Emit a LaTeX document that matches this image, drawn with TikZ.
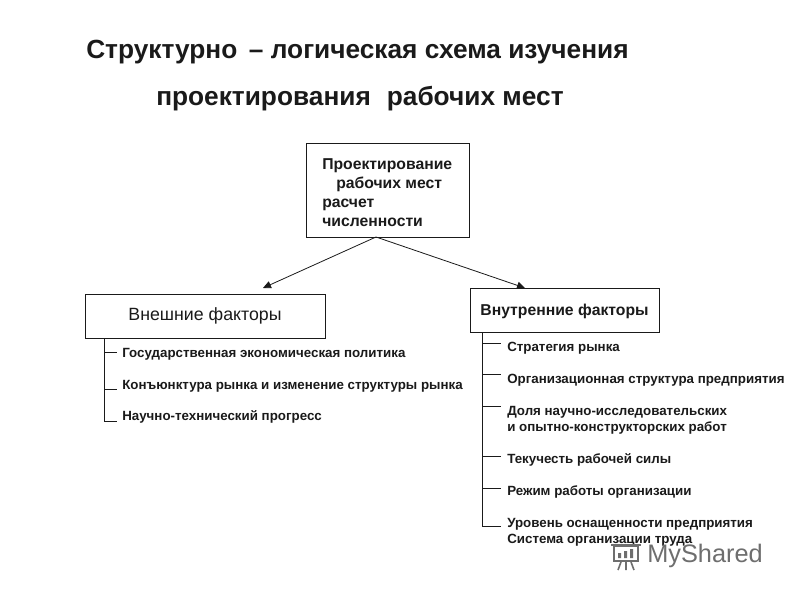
\documentclass[tikz,border=0pt]{standalone}
\usepackage{fontspec}
\setmainfont{Liberation Sans}
\usetikzlibrary{arrows.meta}
\definecolor{ink}{HTML}{1A1A1A}
\definecolor{wm}{HTML}{6E6E6E}
\tikzset{
  box/.style={draw=ink,line width=0.75pt,fill=white,inner sep=0pt},
  lbl/.style={anchor=west,inner sep=0pt,font=\fontsize{10}{12}\selectfont\bfseries,text=ink,align=left},
  ttl/.style={anchor=west,inner sep=0pt,font=\fontsize{19.7}{24}\selectfont\bfseries,text=ink},
  tree/.style={draw=ink,line width=0.7pt},
  arr/.style={draw=ink,line width=0.6pt,-{Triangle[length=6pt,width=5.5pt]}},
  wmline/.style={draw=wm,line width=1.2pt}
}
\begin{document}
\begin{tikzpicture}[x=0.75pt,y=-0.75pt]
\useasboundingbox (0,0) rectangle (800,600);
\fill[white] (0,0) rectangle (800,600);
\node[ttl] (t1) at (86,52) {Структурно \,– логическая схема изучения};
\node[ttl] (t2) at (156,99) {проектирования \,\,рабочих мест};
% boxes
\node[box,minimum width=122.25pt,minimum height=70.5pt] (top) at (387.5,190) {};
\node[box,minimum width=180pt,minimum height=33pt] (ext) at (205,316) {};
\node[box,minimum width=141.75pt,minimum height=33pt] (int) at (564.5,310) {};
\node[lbl,font=\fontsize{11.8}{14.2}\selectfont\bfseries] (toptxt) at (322,193) {Проектирование\\\hspace*{10.5pt}рабочих мест\\расчет\\численности};
\node[anchor=center,inner sep=0pt,font=\fontsize{13.3}{15}\selectfont,text=ink] (exttxt) at (205,316) {Внешние факторы};
\node[anchor=center,inner sep=0pt,font=\fontsize{11.8}{15}\selectfont\bfseries,text=ink] (inttxt) at (564.5,311) {Внутренние факторы};
% arrows
\coordinate (src) at (376,237);
\coordinate (lt) at (263,288);
\coordinate (rt) at (525,288);
\draw[arr] (src) -- (lt);
\draw[arr] (src) -- (rt);
% left list
\node[lbl] (a1) at (122,354) {Государственная экономическая политика};
\node[lbl] (a2) at (122,386) {Конъюнктура рынка и изменение структуры рынка};
\node[lbl] (a3) at (122,417) {Научно-технический прогресс};
\coordinate (aS) at (104,338);
\coordinate (a1t) at (104,352);
\coordinate (a2t) at (104,389);
\coordinate (a3t) at (104,421);
\draw[tree] (aS) -- (a3t) -- ++(13,0);
\draw[tree] (a1t) -- ++(13,0);
\draw[tree] (a2t) -- ++(13,0);
% right list
\node[lbl] (b1) at (507,348) {Стратегия рынка};
\node[lbl] (b2) at (507,380) {Организационная структура предприятия};
\node[lbl] (b3) at (507,420) {Доля научно-исследовательских\\и опытно-конструкторских работ};
\node[lbl] (b4) at (507,460) {Текучесть рабочей силы};
\node[lbl] (b5) at (507,492) {Режим работы организации};
\node[lbl] (b6) at (507,532) {Уровень оснащенности предприятия\\Система организации труда};
\coordinate (bS) at (482,332);
\coordinate (b1t) at (482,343);
\coordinate (b2t) at (482,374);
\coordinate (b3t) at (482,406);
\coordinate (b4t) at (482,456);
\coordinate (b5t) at (482,488);
\coordinate (b6t) at (482,526);
\draw[tree] (bS) -- (b6t) -- ++(19,0);
\foreach \c in {b1t,b2t,b3t,b4t,b5t} \draw[tree] (\c) -- ++(19,0);
% watermark
\node[anchor=west,inner sep=0pt,font=\fontsize{19}{24}\selectfont,text=wm] (wmtxt) at (647,556) {MyShared};
\draw[wmline] (614,546) rectangle (638,561);
\draw[wmline] (611,545) -- (641,545);
\draw[wmline] (621,562) -- (618,570) (626,562) -- (626,570) (631,562) -- (634,570);
\fill[wm] (618,553) rectangle (621,558) (624,551) rectangle (627,558) (630,549) rectangle (633,558);
\end{tikzpicture}
\end{document}
